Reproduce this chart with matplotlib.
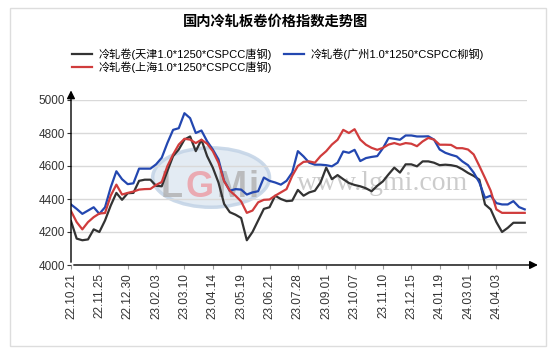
import numpy as np
import matplotlib.pyplot as plt
from matplotlib.patches import Ellipse, Rectangle

plt.rcParams['font.family'] = ['Liberation Sans', 'Noto Sans CJK SC', 'DejaVu Sans']

# x-axis labels, shown every 5 weekly points
tick_labels = ['22.10.21', '22.11.25', '22.12.30', '23.02.03', '23.03.10', '23.04.14',
               '23.05.19', '23.06.21', '23.07.28', '23.09.01', '23.10.07', '23.11.10',
               '23.12.15', '24.01.19', '24.03.01', '24.04.03']

tianjin = [4266, 4160, 4150, 4155, 4216, 4200, 4270, 4360, 4437, 4395,
           4435, 4437, 4510, 4517, 4517, 4480, 4477, 4570, 4660, 4700,
           4760, 4779, 4690, 4759, 4660, 4590, 4500, 4370, 4320, 4305,
           4285, 4150, 4200, 4270, 4340, 4350, 4420, 4400, 4387, 4390,
           4455, 4420, 4440, 4450, 4500, 4590, 4520, 4545, 4520, 4497,
           4485, 4477, 4465, 4447, 4480, 4507, 4550, 4590, 4560, 4610,
           4610, 4598, 4628, 4628, 4620, 4605, 4608, 4605, 4598, 4580,
           4558, 4540, 4517, 4367, 4337, 4260, 4200, 4225, 4256, 4256, 4256]

guangzhou = [4367, 4340, 4310, 4330, 4350, 4310, 4350, 4470, 4568, 4520,
             4490, 4495, 4584, 4584, 4584, 4610, 4650, 4740, 4819, 4829,
             4920, 4890, 4800, 4815, 4750, 4700, 4640, 4510, 4450, 4460,
             4457, 4427, 4440, 4447, 4530, 4510, 4500, 4487, 4510, 4560,
             4690, 4658, 4620, 4608, 4608, 4605, 4598, 4620, 4688, 4680,
             4698, 4630, 4648, 4655, 4660, 4708, 4770, 4765, 4759, 4785,
             4785, 4779, 4779, 4780, 4760, 4700, 4680, 4668, 4658, 4628,
             4605, 4560, 4500, 4407, 4420, 4375, 4367, 4367, 4387, 4351, 4337]

shanghai = [4327, 4260, 4216, 4260, 4290, 4312, 4315, 4420, 4487, 4427,
            4437, 4445, 4457, 4460, 4461, 4485, 4503, 4600, 4670, 4730,
            4765, 4760, 4739, 4759, 4735, 4690, 4620, 4507, 4450, 4420,
            4385, 4316, 4330, 4380, 4395, 4397, 4420, 4440, 4460, 4540,
            4600, 4625, 4628, 4620, 4660, 4690, 4730, 4759, 4819, 4800,
            4823, 4760, 4729, 4710, 4698, 4710, 4730, 4739, 4729, 4739,
            4735, 4720, 4749, 4770, 4760, 4729, 4729, 4728, 4708, 4708,
            4700, 4670, 4600, 4527, 4450, 4337, 4316, 4316, 4316, 4316, 4316]

series_names = ['冷轧卷(天津1.0*1250*CSPCC唐钢)', '冷轧卷(广州1.0*1250*CSPCC柳钢)',
                '冷轧卷(上海1.0*1250*CSPCC唐钢)']

fig = plt.figure(figsize=(5.54, 3.55), dpi=100)
fig.patches.append(Rectangle((9.5 / 554, 1 - 346 / 355), 536 / 554, 338 / 355,
                             transform=fig.transFigure, fill=False,
                             edgecolor='#dddddd', lw=1))

ax = fig.add_axes([71 / 554, 90 / 355, 456 / 554, 165 / 355])
x = np.arange(len(tianjin))

# watermark: logo + site name
ax.add_patch(Ellipse((24.7, 4530), 20.6, 360, facecolor='#dfe8f2', edgecolor='#c2d3e6',
                     lw=2.5, alpha=0.85, zorder=1))
for lx, ch, col in [(17.8, 'L', '#b0b0b0'), (22.6, 'G', '#ec9aa2'),
                    (28.4, 'M', '#b0b0b0'), (32.2, 'i', '#b0b0b0')]:
    ax.text(lx, 4470, ch, ha='center', va='center', fontsize=26, fontweight='bold',
            color=col, alpha=0.8, zorder=1)
ax.text(55, 4495, 'www.lgmi.com', ha='center', va='center', fontsize=20,
        family='Liberation Serif', color='#cccccc', zorder=1)

l1, = ax.plot(x, tianjin, color='#333333', lw=1.6, zorder=3)
l2, = ax.plot(x, guangzhou, color='#2347b0', lw=1.6, zorder=3)
l3, = ax.plot(x, shanghai, color='#d03c3c', lw=1.6, zorder=3)

ax.set_xlim(0, 80.4)
ax.set_ylim(4000, 5000)
ax.set_yticks(range(4000, 5001, 200))
ax.yaxis.grid(True, color='#d9d9d9', lw=1, zorder=2)
ax.set_xticks(range(0, 80, 5))
ax.set_xticklabels(tick_labels, rotation=90, fontsize=8.5, color='#333333')
ax.tick_params(axis='y', labelsize=8.5, length=3, pad=1, colors='#333333')
ax.tick_params(axis='x', length=3, color='#999999', pad=3)
for s in ax.spines.values():
    s.set_visible(False)

# axes with arrows
ax.annotate('', xy=(1.03, 0), xytext=(0, 0), xycoords='axes fraction',
            arrowprops=dict(arrowstyle='-|>', color='black', lw=1, mutation_scale=12))
ax.annotate('', xy=(0, 1.075), xytext=(0, 0), xycoords='axes fraction',
            arrowprops=dict(arrowstyle='-|>', color='black', lw=1, mutation_scale=12))

fig.text(0.497, 1 - 22 / 355, '国内冷轧板卷价格指数走势图', ha='center', va='center',
         fontsize=10.3, fontweight='bold', family=['Noto Sans CJK SC'])

fig.legend([l1, l3, l2], [series_names[0], series_names[2], series_names[1]],
           ncol=2, loc='upper left', bbox_to_anchor=(66 / 554, 1 - 43 / 355),
           frameon=False, fontsize=8, handlelength=1.8, handletextpad=0.6,
           columnspacing=1.1, labelspacing=0.05, borderpad=0)

fig.savefig('out.png', dpi=100)
